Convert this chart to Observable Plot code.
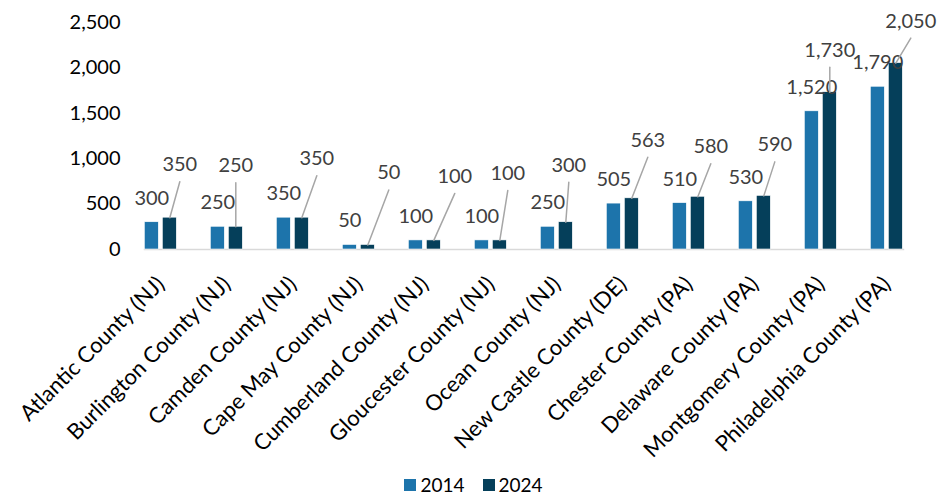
<!DOCTYPE html>
<html><head><meta charset="utf-8">
<script src="https://cdn.jsdelivr.net/npm/d3@7"></script>
<script src="https://cdn.jsdelivr.net/npm/@observablehq/plot@0.6"></script>
<style>
html,body{margin:0;padding:0;background:#fff;}
#wrap{position:relative;width:947px;height:496px;font-family:Lato,"Open Sans",sans-serif;}
#legend{position:absolute;left:0;top:475px;width:947px;height:20px;display:flex;justify-content:center;align-items:center;font-size:19px;line-height:20px;color:#000;}
#legend .item{display:flex;align-items:center;margin:0 9px;}
#legend .sw{width:12px;height:12px;margin-right:4px;}
</style></head><body><div id="wrap"><div id="chart"></div><div id="legend"></div></div>
<script>
const counties = ["Atlantic County (NJ)","Burlington County (NJ)","Camden County (NJ)","Cape May County (NJ)","Cumberland County (NJ)","Gloucester County (NJ)","Ocean County (NJ)","New Castle County (DE)","Chester County (PA)","Delaware County (PA)","Montgomery County (PA)","Philadelphia County (PA)"];
const years = ["2014","2024"];
const values2014 = [300,250,350,50,100,100,250,505,510,530,1520,1790];
const values2024 = [350,250,350,50,100,100,300,563,580,590,1730,2050];
const yTicks = [0,500,1000,1500,2000,2500];
const colors = ["#1d74ab","#053f5a"];
// layout: pixel offsets of the detached 2024 labels from their bar tops
const labelOffsets2024 = [[10,-53],[0,-61],[15,-59],[21,-72],[21,-64],[8,-67],[3,-57],[16,-58],[13,-50],[11,-51],[0,-42],[15,-42]];

const fmt = d3.format(",");
const rows2014 = counties.map((c,i)=>({county:c, year:years[0], value:values2014[i], i}));
const rows2024 = counties.map((c,i)=>({county:c, year:years[1], value:values2024[i], i}));
const rows = rows2014.concat(rows2024);

const leaderShape = {draw(context, l){ context.moveTo(0,0); context.lineTo(0,-l); }};
const leaderVec = d => { const [dx,dy] = labelOffsets2024[d.i]; return [dx, dy + 17]; };

const marks = [
  Plot.axisY({ticks: yTicks, tickFormat: fmt, tickSize: 0, tickPadding: 24, label: null, fontSize: 20, fill: "#000"}),
  Plot.axisFx({anchor: "bottom", tickRotate: -45, tickSize: 0, tickPadding: 31, label: null, fontSize: 22, fill: "#000"}),
  Plot.frame({anchor: "bottom", facet: "super", stroke: "#d9d9d9", strokeWidth: 1.5}),
  Plot.barY(rows, {fx:"county", x:"year", y:"value", fill:"year", stroke:"white", strokeWidth:0.6}),
  Plot.text(rows2014, {fx:"county", x:"year", y:"value", text:d=>fmt(d.value), dy:-24, fill:"#404040", fontSize:20}),
  Plot.vector(rows2024, {fx:"county", x:"year", y:"value", anchor:"start", shape: leaderShape,
    length: d => Math.hypot(...leaderVec(d)),
    rotate: d => { const [vx,vy] = leaderVec(d); return Math.atan2(vx, -vy) * 180 / Math.PI; },
    stroke:"#a6a6a6", strokeWidth:1.5})
];
rows2024.forEach(d => {
  const [dx,dy] = labelOffsets2024[d.i];
  marks.push(Plot.text([d], {fx:"county", x:"year", y:"value", text:r=>fmt(r.value), dx, dy, fill:"#404040", fontSize:20}));
});

const plot = Plot.plot({
  width: 947, height: 474,
  marginLeft: 123.7, marginRight: 23.3, marginTop: 21.7, marginBottom: 225,
  style: {fontFamily: "Lato, 'Open Sans', sans-serif", fontSize: "20px", color: "#000", background: "#fff", overflow: "visible"},
  fx: {domain: counties, paddingInner: 0.5, paddingOuter: 0.25},
  x: {domain: years, paddingInner: 0.2, paddingOuter: 0, axis: null},
  y: {domain: [0, 2500]},
  color: {domain: years, range: colors},
  length: {type: "identity"},
  marks
});
document.getElementById("chart").appendChild(plot);

const color = plot.scale("color");
const legend = document.getElementById("legend");
years.forEach((y, k) => {
  const it = document.createElement("div"); it.className = "item";
  const sw = document.createElement("div"); sw.className = "sw"; sw.style.background = color.range[k];
  const tx = document.createElement("span"); tx.textContent = y;
  it.appendChild(sw); it.appendChild(tx); legend.appendChild(it);
});
</script></body></html>
